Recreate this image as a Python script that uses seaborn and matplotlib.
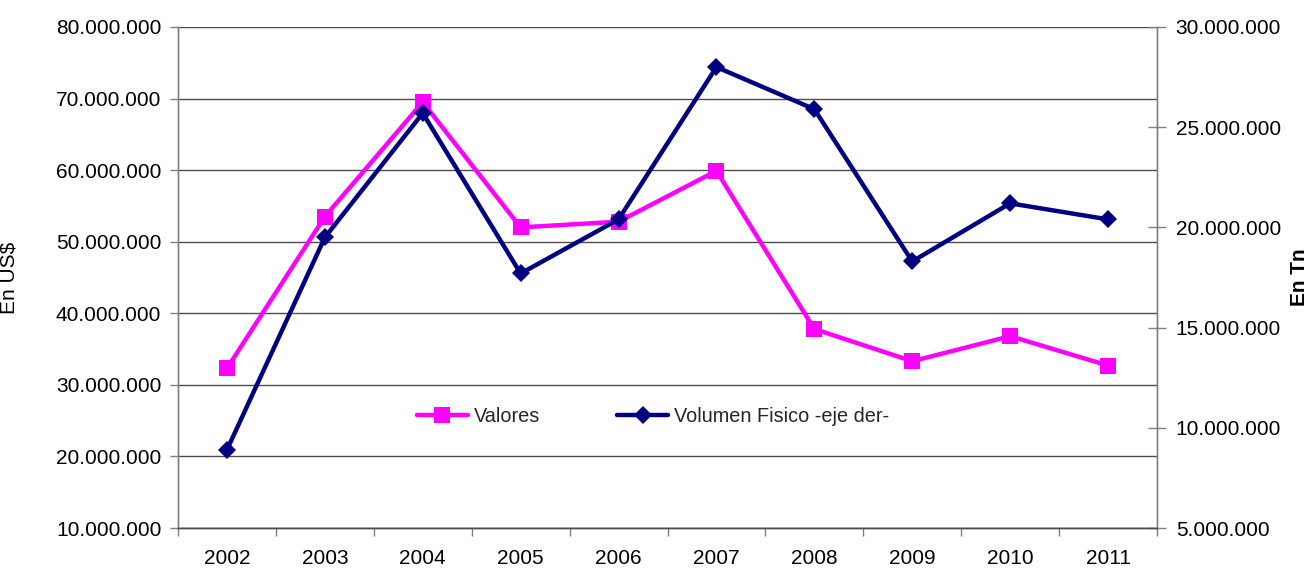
import matplotlib
matplotlib.use("Agg")
import matplotlib.pyplot as plt
import seaborn as sns
import pandas as pd
from matplotlib.ticker import FuncFormatter, MultipleLocator, FixedLocator
from matplotlib.lines import Line2D

# Series data
years = ["2002", "2003", "2004", "2005", "2006", "2007", "2008", "2009", "2010", "2011"]
valores = [32.3e6, 53.5e6, 69.5e6, 52.0e6, 52.8e6, 59.9e6, 37.8e6, 33.3e6, 36.8e6, 32.7e6]
volumen = [8.9e6, 19.5e6, 25.7e6, 17.7e6, 20.4e6, 28.0e6, 25.9e6, 18.3e6, 21.2e6, 20.4e6]

sns.set_theme(style="white")
plt.rcParams["font.family"] = ["Liberation Sans", "DejaVu Sans"]
FS = 15

MAGENTA = "#FF00FF"
NAVY = "#000080"
GRID = "#4d4d4d"
AXIS = "#808080"

df = pd.DataFrame({"pos": range(len(years)), "year": years,
                   "valores": valores, "volumen": volumen})

fig = plt.figure(figsize=(13.12, 5.68), dpi=100)
ax = fig.add_axes([178 / 1312, 1 - 528 / 568, 979 / 1312, 501 / 568])
ax2 = ax.twinx()

sns.lineplot(data=df, x="pos", y="valores", ax=ax, color=MAGENTA, lw=3.2,
             marker="s", markersize=11, markeredgewidth=0, legend=False)
sns.lineplot(data=df, x="pos", y="volumen", ax=ax2, color=NAVY, lw=3.2,
             marker="D", markersize=9, markeredgewidth=0, legend=False)

def miles(v, _):
    return f"{int(round(v)):,}".replace(",", ".")

# Left axis (US$)
ax.set_ylim(10e6, 80e6)
ax.yaxis.set_major_locator(MultipleLocator(10e6))
ax.yaxis.set_major_formatter(FuncFormatter(miles))
ax.yaxis.grid(True, color=GRID, lw=1.0)
ax.xaxis.grid(False)
ax.set_axisbelow(True)

# Right axis (Tn)
ax2.set_ylim(5e6, 30e6)
ax2.yaxis.set_major_locator(MultipleLocator(5e6))
ax2.yaxis.set_major_formatter(FuncFormatter(miles))
ax2.grid(False)

# Category axis
ax.set_xlim(-0.5, len(years) - 0.5)
ax.xaxis.set_major_locator(FixedLocator(list(range(len(years)))))
ax.set_xticklabels(years)
ax.xaxis.set_minor_locator(FixedLocator([i - 0.5 for i in range(len(years) + 1)]))
ax.tick_params(axis="x", which="major", length=0, pad=15, labelsize=FS, labelcolor="black")
ax.tick_params(axis="x", which="minor", length=6, width=1, color=AXIS, direction="out", bottom=True)
ax.tick_params(axis="y", which="major", length=6, width=1, color=AXIS, direction="out",
               left=True, pad=6, labelsize=FS, labelcolor="black")
ax2.tick_params(axis="y", which="major", length=13, width=1, color=AXIS, direction="inout",
                right=True, pad=7, labelsize=FS, labelcolor="black")

for a in (ax, ax2):
    a.spines["top"].set_visible(False)
    a.spines["left"].set_color(AXIS)
    a.spines["right"].set_color(AXIS)
    a.spines["bottom"].set_color(GRID)
    for s in a.spines.values():
        s.set_linewidth(1.0)
    a.set_xlabel("")

ax.set_ylabel("En US$", fontsize=FS, color="black")
ax.yaxis.set_label_coords(-0.163, 0.5)
ax2.set_ylabel("En Tn", fontsize=FS, color="black", fontweight="bold")
ax2.yaxis.set_label_coords(1.136, 0.5)

handles = [
    Line2D([], [], color=MAGENTA, lw=3.2, marker="s", markersize=11, markeredgewidth=0),
    Line2D([], [], color=NAVY, lw=3.2, marker="D", markersize=9, markeredgewidth=0),
]
ax2.legend(handles, ["Valores", "Volumen Fisico -eje der-"], ncol=2, frameon=False,
           loc="center left", bbox_to_anchor=(417 / 1312, 1 - 416 / 568),
           bbox_transform=fig.transFigure, borderpad=0, borderaxespad=0,
           handlelength=2.55, handletextpad=0.3, columnspacing=3.9, fontsize=14.3)

fig.savefig("out.png", dpi=100, facecolor="white")
